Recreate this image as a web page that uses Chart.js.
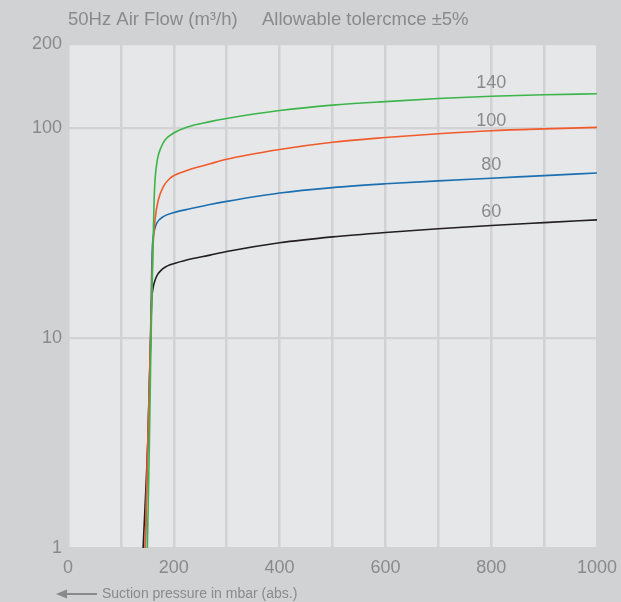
<!DOCTYPE html>
<html>
<head>
<meta charset="utf-8">
<script src="https://cdn.jsdelivr.net/npm/chart.js@4"></script>
<style>
  body { margin: 0; background: #d1d2d4; }
  #flowChart { display: block; }
</style>
</head>
<body>
<canvas id="flowChart" width="621" height="602"></canvas>
<script>
// suction pressure (mbar abs.) and air flow (m3/h)
const p140 = [150, 154, 157, 160.5, 162.6, 164.5, 168.8, 175.2, 183.4, 199, 224.4, 268.4, 300, 400, 500, 600, 700, 800, 900, 1000];
const q140 = [1, 3.3, 10, 25, 43.8, 56.5, 70.4, 80.1, 87.7, 94.3, 100.8, 107.2, 111, 121, 128.4, 133.5, 138, 141.5, 143.8, 145.5];

const p100 = [146, 151, 156, 159, 160.1, 164.5, 170.7, 180.2, 192.8, 218, 268.4, 300, 400, 500, 600, 700, 800, 900, 1000];
const q100 = [1, 3.3, 10, 20, 25.3, 36.5, 45.4, 52.5, 57.6, 61.9, 67.5, 71, 79, 85.5, 90, 93.8, 97, 99, 100.6];

const p80 = [146, 151, 156, 157.8, 159, 161.2, 164, 167.7, 180.2, 199, 230.6, 268.4, 300, 400, 500, 600, 700, 800, 900, 1000];
const q80 = [1, 3.3, 10, 18, 25.3, 30.4, 33, 35.2, 37.8, 39.5, 41.2, 43.2, 44.7, 49, 52, 54.2, 56, 57.6, 59.3, 61];

const p60 = [142, 151, 156.3, 158.2, 159.7, 162, 165.4, 170.1, 176.7, 183.4, 192.8, 224.4, 268.4, 300, 400, 500, 600, 700, 800, 900, 1000];
const q60 = [1, 3.3, 10, 15.2, 16.6, 17.9, 19.1, 20.2, 21.1, 21.7, 22.3, 23.5, 24.8, 25.8, 28.4, 30.3, 31.8, 33.1, 34.3, 35.4, 36.5];

const seriesNames = ["140", "100", "80", "60"];
const xTickLabels = ["0", "200", "400", "600", "800", "1000"];
const yTickLabels = ["1", "10", "100", "200"];
const labelAt = 800; // pressure where the curve names sit

const titleLeft = "50Hz Air Flow (m\u00b3/h)";
const titleRight = "Allowable tolercmce \u00b15%";
const axisCaption = "Suction pressure in mbar (abs.)";

const FONT = "'Liberation Sans', Arial, sans-serif";
const TEXT = "#8a8a8a";

const toPoints = (xs, ys) => xs.map((x, i) => ({ x: x, y: ys[i] }));

const colors = ["#3bb54a", "#f15a2b", "#1b6fb0", "#231f20"];
const labelLift = [13, 10, 13, 14];
const allP = [p140, p100, p80, p60];
const allQ = [q140, q100, q80, q60];

const datasets = seriesNames.map((name, i) => ({
  label: name,
  data: toPoints(allP[i], allQ[i]),
  borderColor: colors[i],
  borderWidth: 1.6,
  pointRadius: 0,
  fill: false,
  cubicInterpolationMode: "monotone"
}));

const decor = {
  id: "decor",
  beforeDraw(chart) {
    const { ctx, chartArea: a } = chart;
    ctx.save();
    ctx.fillStyle = "#e6e7e8";
    ctx.fillRect(a.left, a.top, a.right - a.left, a.bottom - a.top);
    ctx.restore();
  },
  afterDatasetsDraw(chart) {
    const { ctx, scales } = chart;
    ctx.save();
    ctx.font = "18px " + FONT;
    ctx.fillStyle = TEXT;
    ctx.textAlign = "center";
    ctx.textBaseline = "middle";
    chart.data.datasets.forEach((ds, i) => {
      const pt = ds.data.find(d => d.x === labelAt);
      const x = scales.x.getPixelForValue(labelAt);
      const y = scales.y.getPixelForValue(pt.y) - labelLift[i];
      ctx.fillText(ds.label, x, y);
    });
    ctx.restore();
  },
  afterDraw(chart) {
    const { ctx } = chart;
    ctx.save();
    ctx.fillStyle = TEXT;
    ctx.font = "18.5px " + FONT;
    ctx.textBaseline = "alphabetic";
    ctx.textAlign = "left";
    ctx.fillText(titleLeft, 68, 25);
    ctx.fillText(titleRight, 262, 25);

    // arrow pointing to lower pressure
    ctx.strokeStyle = TEXT;
    ctx.lineWidth = 2;
    ctx.beginPath();
    ctx.moveTo(64, 594);
    ctx.lineTo(97, 594);
    ctx.stroke();
    ctx.beginPath();
    ctx.moveTo(56, 594);
    ctx.lineTo(67, 589.5);
    ctx.lineTo(67, 598.5);
    ctx.closePath();
    ctx.fill();

    ctx.font = "14px " + FONT;
    ctx.textBaseline = "middle";
    ctx.fillText(axisCaption, 102, 594);
    ctx.restore();
  }
};

new Chart(document.getElementById("flowChart").getContext("2d"), {
  type: "line",
  data: { datasets: datasets },
  options: {
    responsive: false,
    animation: false,
    layout: { padding: { top: 44, right: 0, bottom: 0, left: 0 } },
    plugins: {
      legend: { display: false },
      tooltip: { enabled: false }
    },
    scales: {
      x: {
        type: "linear",
        min: 0,
        max: 1000,
        afterFit: (s) => {
          s.height = 54;
          s.paddingLeft = 0;
          s.paddingRight = 24;
        },
        border: { display: false },
        grid: { color: "#d1d2d4", lineWidth: 2.5, drawTicks: false },
        ticks: {
          stepSize: 100,
          autoSkip: false,
          maxRotation: 0,
          padding: 9,
          color: TEXT,
          font: { family: FONT, size: 18 },
          callback: (v) => xTickLabels.includes(String(v)) ? String(v) : ""
        }
      },
      y: {
        type: "logarithmic",
        min: 1,
        max: 251,
        afterFit: (s) => { s.width = 68; },
        afterBuildTicks: (s) => {
          s.ticks = [1, 10, 100, s.max].map(v => ({ value: v }));
        },
        border: { display: false },
        grid: { color: "#d1d2d4", lineWidth: 2.2, drawTicks: false },
        ticks: {
          padding: 6,
          color: TEXT,
          font: { family: FONT, size: 18 },
          callback: (v, i) => yTickLabels[i]
        }
      }
    }
  },
  plugins: [decor]
});
</script>
</body>
</html>
